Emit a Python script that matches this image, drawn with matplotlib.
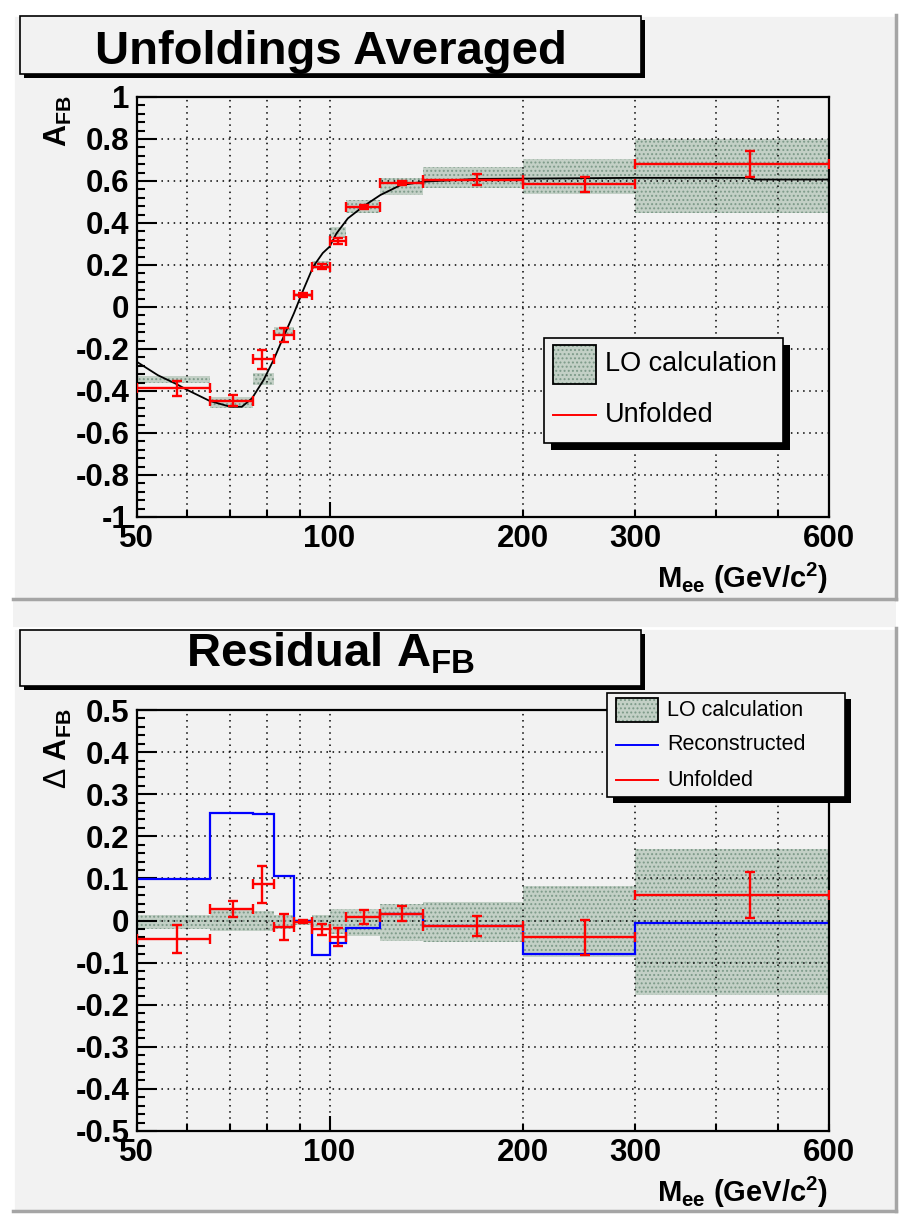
import numpy as np
import matplotlib
matplotlib.use("Agg")
import matplotlib.pyplot as plt
from matplotlib.patches import Rectangle
from matplotlib.lines import Line2D
from matplotlib.ticker import MultipleLocator, FuncFormatter

plt.rcParams["font.family"] = ["Liberation Sans", "DejaVu Sans"]
plt.rcParams["font.weight"] = "bold"
plt.rcParams["mathtext.fontset"] = "custom"
plt.rcParams["mathtext.rm"] = "Liberation Sans:weight=normal"
plt.rcParams["mathtext.bf"] = "Liberation Sans:bold"
plt.rcParams["hatch.linewidth"] = 0.9

W, H = 899, 1224

# mass bins in GeV/c^2
bin_edges = [50, 65, 76, 82, 88, 94, 100, 106, 120, 140, 200, 300, 600]
bin_centers = [57.8, 70.7, 78.6, 84.8, 91.0, 97.5, 103.1, 113, 129.8, 170, 250, 453]

# averaged unfolded A_FB
afb_unfolded = [-0.387, -0.446, -0.249, -0.133, 0.056, 0.192, 0.314, 0.478, 0.592, 0.605, 0.584, 0.681]
afb_unfolded_err = [0.035, 0.027, 0.045, 0.032, 0.010, 0.012, 0.015, 0.010, 0.010, 0.026, 0.037, 0.060]

# LO prediction per bin (centre and half width of band)
lo_center = [-0.345, -0.455, -0.343, -0.117, 0.059, 0.200, 0.355, 0.480, 0.573, 0.618, 0.622, 0.623]
lo_halfwidth = [0.018, 0.027, 0.028, 0.022, 0.010, 0.018, 0.028, 0.030, 0.040, 0.049, 0.085, 0.175]

# LO curve
lo_curve_mass = [50, 54, 57.8, 60, 65, 70, 73, 75.7, 78.9, 81.8, 84.8, 88, 91, 94.3, 97.6,
                 100, 102.5, 106.8, 113, 120, 129, 140.5, 170, 300, 450, 460, 600]
lo_curve_afb = [-0.26, -0.325, -0.368, -0.395, -0.447, -0.475, -0.475, -0.435, -0.348, -0.252,
                -0.141, -0.03, 0.081, 0.192, 0.257, 0.287, 0.35, 0.422, 0.48, 0.533, 0.58,
                0.597, 0.61, 0.615, 0.615, 0.607, 0.607]

# residuals with respect to LO
dafb_reco = [0.099, 0.256, 0.252, 0.105, -0.002, -0.083, -0.053, -0.017, 0.016, -0.0135, -0.079, -0.0055]
dafb_unfolded = [-0.044, 0.028, 0.086, -0.016, -0.003, -0.021, -0.040, 0.008, 0.016, -0.0135, -0.040, 0.060]
dafb_unfolded_err = [0.034, 0.019, 0.044, 0.031, 0.004, 0.013, 0.021, 0.016, 0.018, 0.024, 0.042, 0.055]
dlo_low = [-0.020, -0.024, -0.024, -0.021, -0.010, -0.016, -0.032, -0.036, -0.048, -0.052, -0.087, -0.177]
dlo_high = [0.0135, 0.024, 0.022, 0.0135, 0.004, 0.012, 0.028, 0.028, 0.040, 0.045, 0.083, 0.171]

x_minor = [50, 60, 70, 80, 90, 200, 300, 400, 500, 600]
x_minor_labels = ["50", "", "", "", "", "200", "300", "", "", "600"]

BAND_FACE = "#c3d0c6"
BAND_HATCH = "#7d9a89"
PAD_GRAY = "#f2f2f2"
TICK_FS = 22.5

fig = plt.figure(figsize=(W / 100, H / 100), dpi=100, facecolor="white")


def fx(x):
    return x / W


def fy(y):
    return 1 - y / H


def frect(x0, y0, x1, y1, **kw):
    fig.add_artist(Rectangle((fx(x0), fy(y1)), (x1 - x0) / W, (y1 - y0) / H,
                             transform=fig.transFigure, **kw))


def fline(x0, y0, x1, y1, **kw):
    fig.add_artist(Line2D([fx(x0), fx(x1)], [fy(y0), fy(y1)], transform=fig.transFigure, **kw))


# canvas and pad bevels
frect(13, 15, 896, 1212, facecolor=PAD_GRAY, edgecolor="none", zorder=-5)
for top, bottom in [(15, 599), (628, 1211)]:
    fline(13, top, 896, top, color="white", lw=2, zorder=-4)
    fline(13, top, 13, bottom, color="white", lw=2, zorder=-4)
    fline(13, bottom, 896, bottom, color="#a5a5a5", lw=2.5, zorder=-4)
    fline(896, top, 896, bottom, color="#a5a5a5", lw=2.5, zorder=-4)


def fmt_y(v, pos):
    v = round(v, 3)
    if abs(v) < 1e-9:
        v = 0
    return f"{v:g}"


def setup_axes(ax, ymin, ymax, major, minor):
    ax.set_xscale("log")
    ax.set_xlim(50, 600)
    ax.set_ylim(ymin, ymax)
    ax.set_facecolor(PAD_GRAY)
    ax.set_xticks([100], labels=["100"])
    ax.set_xticks(x_minor, labels=x_minor_labels, minor=True)
    ax.yaxis.set_major_locator(MultipleLocator(major))
    ax.yaxis.set_minor_locator(MultipleLocator(minor))
    ax.yaxis.set_major_formatter(FuncFormatter(fmt_y))
    ax.tick_params(axis="y", which="major", direction="in", length=14.4, width=1.5,
                   labelsize=TICK_FS, pad=5)
    ax.tick_params(axis="y", which="minor", direction="in", length=5.8, width=1.5)
    ax.tick_params(axis="x", which="major", direction="in", length=10.8, width=1.5,
                   labelsize=TICK_FS, pad=5)
    ax.tick_params(axis="x", which="minor", direction="in", length=5, width=1.5,
                   labelsize=TICK_FS, pad=5)
    for sp in ax.spines.values():
        sp.set_linewidth(1.6)
    ax.grid(True, which="both", axis="x", color="black", ls=(0, (1, 3)), lw=1.1)
    ax.grid(True, which="major", axis="y", color="black", ls=(0, (1, 3)), lw=1.1)
    ax.set_axisbelow("line")


def band(ax, low, high):
    edges = np.array(bin_edges, dtype=float)
    ax.bar(edges[:-1], np.array(high) - np.array(low), width=np.diff(edges), bottom=low,
           align="edge", facecolor=BAND_FACE, edgecolor=BAND_HATCH, hatch="....", lw=0, zorder=1)


def unfolded_points(ax, vals, errs):
    c = np.array(bin_centers)
    e = np.array(bin_edges, dtype=float)
    ax.errorbar(c, vals, xerr=[c - e[:-1], e[1:] - c], yerr=errs, fmt="none", ecolor="red",
                elinewidth=1.7, capsize=3.5, capthick=1.7, zorder=3)


left, width = fx(136.5), (828.5 - 136.5) / W

# upper panel
ax1 = fig.add_axes([left, fy(517), width, 420 / H])
setup_axes(ax1, -1, 1, 0.2, 0.04)
lo_c = np.array(lo_center)
lo_w = np.array(lo_halfwidth)
band(ax1, lo_c - lo_w, lo_c + lo_w)
ax1.plot(lo_curve_mass, lo_curve_afb, color="black", lw=1.3, zorder=2)
unfolded_points(ax1, afb_unfolded, afb_unfolded_err)

# lower panel
ax2 = fig.add_axes([left, fy(1131), width, 421 / H])
setup_axes(ax2, -0.5, 0.5, 0.1, 0.02)
band(ax2, dlo_low, dlo_high)
ax2.stairs(dafb_reco, bin_edges, baseline=None, color="blue", lw=1.6, zorder=2)
unfolded_points(ax2, dafb_unfolded, dafb_unfolded_err)

# title boxes
for y0, y1, title, base in [(16, 74, "Unfoldings Averaged", 64),
                            (630, 686, r"Residual A$_{\mathbf{FB}}$", 667)]:
    frect(24, y0 + 4, 645, y1 + 4, facecolor="black", edgecolor="none", zorder=5)
    frect(20, y0, 641, y1, facecolor=PAD_GRAY, edgecolor="black", lw=1.2, zorder=6)
    fig.text(fx(331), fy(base), title, ha="center", va="baseline", fontsize=34,
             weight="bold", zorder=7)

# axis titles
for ytop, label in [(95, r"A$_{\mathbf{FB}}$"), (708, r"$\Delta$ A$_{\mathbf{FB}}$")]:
    fig.text(fx(58), fy(ytop), label, ha="center", va="top", rotation=90, fontsize=22,
             weight="bold")
for base in [588, 1202]:
    fig.text(fx(828), fy(base), r"M$_{\mathbf{ee}}$ (GeV/c$^{\mathbf{2}}$)", ha="right",
             va="baseline", fontsize=21, weight="bold")


def legend_box(x0, y0, x1, y1, off, entries, hx0, hx1, tx, fs):
    frect(x0 + off, y0 + off, x1 + off, y1 + off, facecolor="black", edgecolor="none", zorder=5)
    frect(x0, y0, x1, y1, facecolor=PAD_GRAY, edgecolor="black", lw=1.2, zorder=6)
    for kind, yc, hh, label, color in entries:
        if kind == "band":
            frect(hx0, yc - hh / 2, hx1, yc + hh / 2, facecolor=BAND_FACE, edgecolor=BAND_HATCH,
                  hatch="....", lw=0, zorder=7)
            frect(hx0, yc - hh / 2, hx1, yc + hh / 2, facecolor="none", edgecolor="black",
                  lw=1.3, zorder=7)
        else:
            fline(hx0, yc, hx1, yc, color=color, lw=1.4, zorder=7)
        fig.text(fx(tx), fy(yc), label, ha="left", va="center", fontsize=fs,
                 weight="normal", zorder=7)


legend_box(544, 338, 783, 443, 7,
           [("band", 364, 39, "LO calculation", None),
            ("line", 415, 0, "Unfolded", "red")],
           553, 596, 605, 19.5)
legend_box(607, 693, 845, 797, 6,
           [("band", 710, 24, "LO calculation", None),
            ("line", 745, 0, "Reconstructed", "blue"),
            ("line", 780, 0, "Unfolded", "red")],
           616, 658, 667, 15.5)

fig.savefig("out.png", dpi=100, facecolor="white")
